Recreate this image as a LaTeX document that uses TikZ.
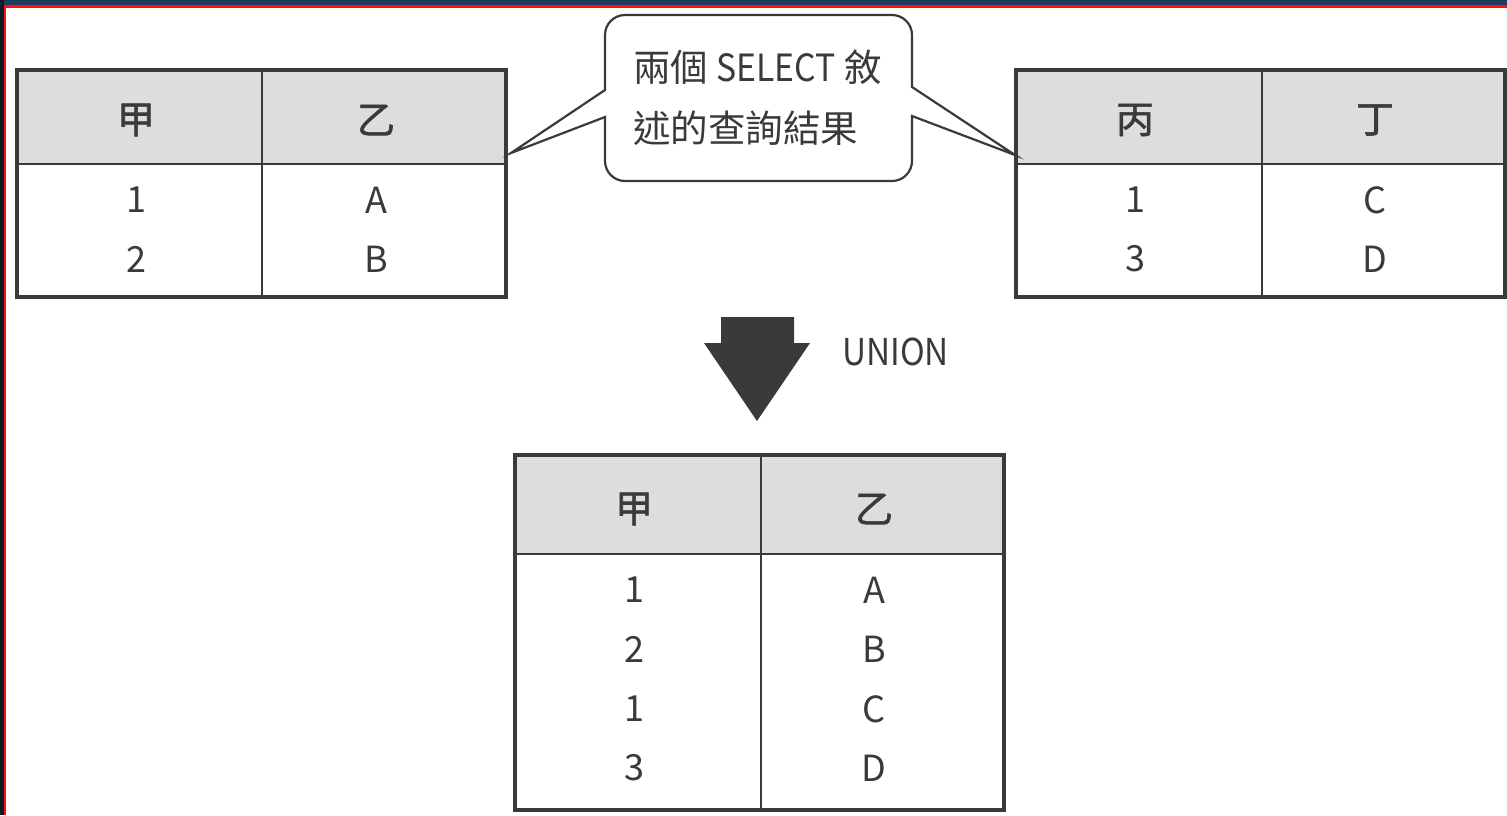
\documentclass[tikz,border=0pt]{standalone}
\usepackage{fontspec}
\setmainfont{Noto Sans CJK TC}
\newfontfamily\cjkb{Noto Sans CJK TC}[FakeBold=1.5]
\newfontfamily\narrowlat{Noto Sans CJK TC}[FakeStretch=0.9]
\definecolor{ink}{HTML}{3A3A3A}
\definecolor{hdr}{HTML}{DCDDDF}
\definecolor{navy}{HTML}{1D3C5E}
\definecolor{navyd}{HTML}{0E1A26}
\definecolor{edge}{HTML}{FF1010}
\tikzset{
  tframe/.style={draw=ink, line width=3.5pt},
  tline/.style={draw=ink, line width=2.2pt},
  hcell/.style={text=ink, font=\cjkb\fontsize{38}{38}\selectfont, inner sep=0pt},
  dcell/.style={text=ink, font=\fontsize{36}{36}\selectfont, inner sep=0pt},
  calltext/.style={text=ink, font=\fontsize{37.5}{37.5}\selectfont, inner sep=0pt, anchor=west},
}
\begin{document}
\begin{tikzpicture}[x=1pt,y=-1pt]
\useasboundingbox (0,0) rectangle (1507,815);
\fill[white] (0,0) rectangle (1507,815);
% frame strips
\fill[navy] (0,0) rectangle (1507,5);
\fill[navyd] (0,0) rectangle (3.5,815);
\fill[edge] (3.5,5) rectangle (1507,7.5);
\fill[edge] (3.5,5) rectangle (6,815);

% ---------- table 1 ----------
\fill[hdr] (17,70) rectangle (506,164);
\draw[tline] (17,164) -- (506,164);
\draw[tline] (262,70) -- (262,297);
\draw[tframe] (17,70) rectangle (506,297);
\node[hcell] (t1h1) at (136,120) {甲};
\node[hcell] (t1h2) at (376,120) {乙};
\node[dcell] (t1a1) at (136,200) {1};
\node[dcell] (t1a2) at (136,259) {2};
\node[dcell] (t1b1) at (376,200) {A};
\node[dcell] (t1b2) at (376,259) {B};

% ---------- table 2 ----------
\fill[hdr] (1016,70) rectangle (1505,164);
\draw[tline] (1016,164) -- (1505,164);
\draw[tline] (1262,70) -- (1262,297);
\draw[tframe] (1016,70) rectangle (1505,297);
\node[hcell] (t2h1) at (1135,120) {丙};
\node[hcell] (t2h2) at (1375,120) {丁};
\node[dcell] (t2a1) at (1135,200) {1};
\node[dcell] (t2a2) at (1135,259) {3};
\node[dcell] (t2b1) at (1375,200) {C};
\node[dcell] (t2b2) at (1375,259) {D};

% ---------- callout ----------
\coordinate (tipL) at (511,153);
\coordinate (tipR) at (1015,155);
\draw[ink, line width=2.2pt, fill=white, line join=miter]
  (625,15) -- (892,15) arc[start angle=90,end angle=0,radius=20pt]
  -- (912,87) -- (tipR) -- (912,116)
  -- (912,161) arc[start angle=0,end angle=-90,radius=20pt]
  -- (625,181) arc[start angle=-90,end angle=-180,radius=20pt]
  -- (605,117) -- (tipL) -- (605,90)
  -- (605,35) arc[start angle=180,end angle=90,radius=20pt] -- cycle;
\node[calltext] (c1) at (633,67) {兩個 {\narrowlat SELECT} 敘};
\node[calltext] (c2) at (633,128) {述的查詢結果};

% ---------- arrow ----------
\fill[ink] (721,317) -- (794,317) -- (794,343) -- (810,343) -- (757,421)
  -- (704,343) -- (721,343) -- cycle;
\node[text=ink, font=\narrowlat\fontsize{37}{37}\selectfont, inner sep=0pt, anchor=west] (un) at (842,352) {UNION};

% ---------- result table ----------
\fill[hdr] (515,455) rectangle (1004,554);
\draw[tline] (515,554) -- (1004,554);
\draw[tline] (761,455) -- (761,810);
\draw[tframe] (515,455) rectangle (1004,810);
\node[hcell] (t3h1) at (634,509) {甲};
\node[hcell] (t3h2) at (874,509) {乙};
\node[dcell] (t3a1) at (634,590) {1};
\node[dcell] (t3a2) at (634,649) {2};
\node[dcell] (t3a3) at (634,709) {1};
\node[dcell] (t3a4) at (634,768) {3};
\node[dcell] (t3b1) at (874,590) {A};
\node[dcell] (t3b2) at (874,649) {B};
\node[dcell] (t3b3) at (874,709) {C};
\node[dcell] (t3b4) at (874,768) {D};
\end{tikzpicture}
\end{document}
